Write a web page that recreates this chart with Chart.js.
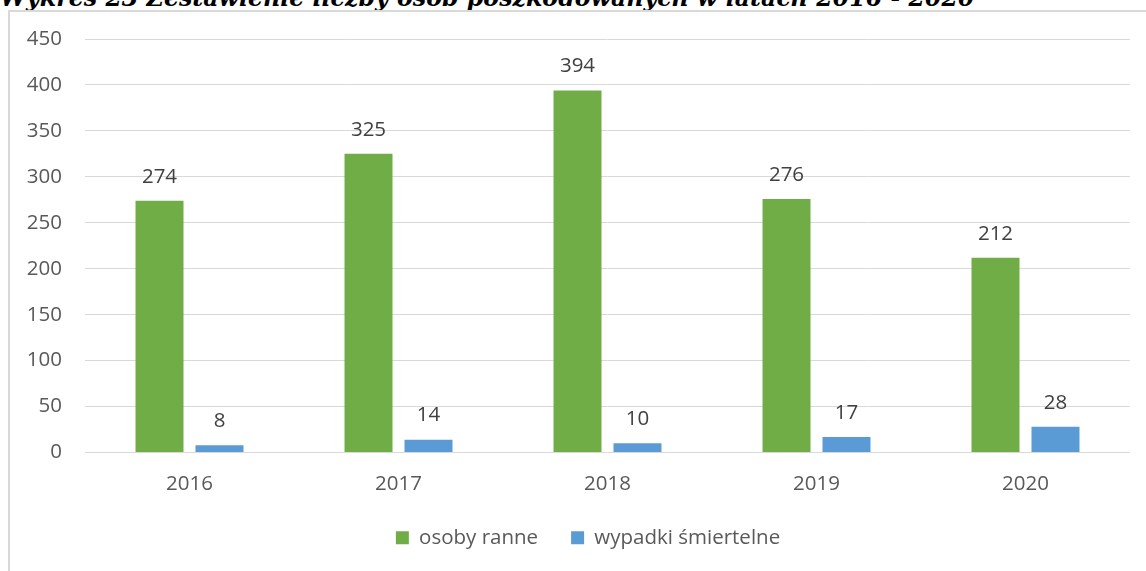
<!DOCTYPE html>
<html>
<head>
<meta charset="utf-8">
<script src="https://cdn.jsdelivr.net/npm/chart.js@4.4.1/dist/chart.umd.min.js"></script>
<style>
    html, body { margin: 0; padding: 0; background: #fff; overflow: hidden; }
    #title {
        position: absolute; left: 0; top: -16px; white-space: nowrap;
        font-family: "DejaVu Serif", serif; font-weight: bold; font-style: italic;
        font-size: 23.7px; line-height: 28px; color: #000;
    }
    #frame {
        position: absolute; left: 8px; top: 10px; width: 1160px; height: 600px;
        border: 2px solid #d9d9d9;
    }
    #wrap { position: absolute; left: 0; top: 0; width: 1146px; height: 571px; }
</style>
</head>
<body>
<div id="title">Wykres 23 Zestawienie liczby osób poszkodowanych w latach 2016 - 2020</div>
<div id="frame"></div>
<div id="wrap"><canvas id="chart"></canvas></div>
<script>
// dane z wykresu
const years = ["2016", "2017", "2018", "2019", "2020"];
const injured = [274, 325, 394, 276, 212];
const fatal = [8, 14, 10, 17, 28];
const yTicks = [0, 50, 100, 150, 200, 250, 300, 350, 400, 450];

const labelFont = { family: "Open Sans", size: 20.5 };

// podpisy wartosci nad slupkami
const valueLabels = {
    id: "valueLabels",
    afterDatasetsDraw(chart) {
        const ctx = chart.ctx;
        ctx.save();
        ctx.font = "20.5px 'Open Sans'";
        ctx.fillStyle = "#404040";
        ctx.textAlign = "center";
        ctx.textBaseline = "middle";
        chart.data.datasets.forEach(function (ds, i) {
            const meta = chart.getDatasetMeta(i);
            meta.data.forEach(function (bar, j) {
                ctx.fillText(ds.data[j], bar.x, bar.y - 24);
            });
        });
        ctx.restore();
    }
};

// legenda w oryginale jest wysrodkowana nieco na prawo
const legendShift = {
    id: "legendShift",
    afterLayout(chart) {
        if (chart.legend) {
            chart.legend.left += 46;
        }
    }
};

new Chart(document.getElementById("chart"), {
    type: "bar",
    data: {
        labels: years,
        datasets: [{
            label: "osoby ranne",
            data: injured,
            backgroundColor: "#70AD47",
            categoryPercentage: 0.574,
            barPercentage: 0.8
        }, {
            label: "wypadki śmiertelne",
            data: fatal,
            backgroundColor: "#5B9BD5",
            categoryPercentage: 0.574,
            barPercentage: 0.8
        }]
    },
    options: {
        responsive: true,
        maintainAspectRatio: false,
        animation: false,
        layout: { padding: { left: 0, right: 16, top: 39, bottom: 13 } },
        plugins: {
            legend: {
                position: "bottom",
                labels: {
                    boxWidth: 13, boxHeight: 13, padding: 33,
                    color: "#595959", font: labelFont
                }
            },
            tooltip: { enabled: false }
        },
        scales: {
            x: {
                grid: { display: false },
                border: { display: false },
                ticks: { color: "#595959", font: labelFont, padding: 11 },
                afterFit: function (s) { s.height = 42; }
            },
            y: {
                min: 0,
                max: 450,
                afterBuildTicks: function (s) { s.ticks = yTicks.map(v => ({ value: v })); },
                grid: { color: "#d9d9d9", lineWidth: 1, drawTicks: false },
                border: { display: false },
                ticks: { color: "#595959", font: labelFont, padding: 23 },
                afterFit: function (s) { s.width = 85; }
            }
        }
    },
    plugins: [valueLabels, legendShift]
});
</script>
</body>
</html>
